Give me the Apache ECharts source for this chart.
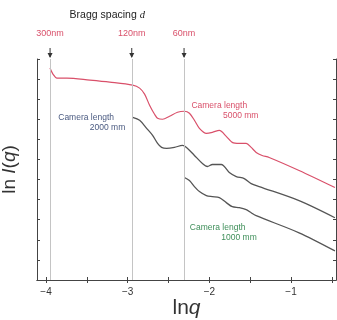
<!DOCTYPE html>
<html>
<head>
<meta charset="utf-8">
<script src="https://cdn.jsdelivr.net/npm/echarts@6/dist/echarts.min.js"></script>
<style>
  html, body { margin: 0; padding: 0; background: #fff; }
  #chart { width: 337px; height: 320px; }
</style>
</head>
<body>
<div id="chart"></div>
<script>
// ln q tick positions
const xTickLabels = [-4, -3, -2, -1]
const xMinorTicks = [-4, -3.5, -3, -2.5, -2, -1.5, -1, -0.5]

// Bragg spacing markers (ln q positions)
const braggLabels = ['300nm', '120nm', '60nm']
const braggLnQ = [-3.95, -2.95, -2.31]

// curves: [ln q, ln I(q)] (arbitrary units)
const curve5000 = [
  [-3.951, 10.55], [-3.915, 10.25], [-3.866, 10.05], [-3.744, 10.05], [-3.463, 9.95],
  [-3.220, 9.85], [-2.939, 9.70], [-2.854, 9.55], [-2.793, 9.25], [-2.732, 8.70],
  [-2.671, 8.25], [-2.634, 8.05], [-2.573, 8.00], [-2.488, 8.15], [-2.390, 8.35],
  [-2.305, 8.40], [-2.244, 8.30], [-2.183, 7.95], [-2.122, 7.55], [-2.037, 7.30],
  [-1.963, 7.35], [-1.878, 7.45], [-1.793, 7.15], [-1.720, 6.85], [-1.634, 6.80],
  [-1.549, 6.80], [-1.488, 6.60], [-1.427, 6.35], [-1.354, 6.20], [-1.268, 6.10],
  [-0.902, 5.45], [-0.463, 4.60]
]
const curve2000 = [
  [-2.939, 8.10], [-2.854, 7.95], [-2.768, 7.55], [-2.695, 7.20], [-2.634, 6.80],
  [-2.585, 6.60], [-2.524, 6.55], [-2.427, 6.60], [-2.329, 6.70], [-2.280, 6.60],
  [-2.183, 6.20], [-2.085, 5.80], [-2.024, 5.65], [-1.963, 5.75], [-1.854, 5.75],
  [-1.756, 5.35], [-1.671, 5.15], [-1.573, 5.05], [-1.488, 4.80], [-1.390, 4.65],
  [-0.902, 3.95], [-0.463, 3.10]
]
const curve1000 = [
  [-2.305, 5.10], [-2.244, 4.95], [-2.183, 4.65], [-2.122, 4.40], [-2.037, 4.20],
  [-1.963, 4.15], [-1.878, 4.10], [-1.793, 3.85], [-1.720, 3.65], [-1.634, 3.60],
  [-1.549, 3.50], [-1.488, 3.35], [-1.427, 3.20], [-0.902, 2.35], [-0.463, 1.45]
]

// camera length annotations: [line 1, line 2, anchor ln q, anchor ln I, colour]
const cameraNotes = [
  ['Camera length', '5000 mm', -2.22, 8.7, '#d9506a'],
  ['Camera length', '2000 mm', -3.85, 8.1, '#4a5a80'],
  ['Camera length', '1000 mm', -2.24, 2.6, '#3f8f5a']
]

const chart = echarts.init(document.getElementById('chart'))

const axisColor = '#444'
const lineStyle = { color: axisColor, width: 1 }

const option = {
  animation: false,
  backgroundColor: '#fff',
  grid: { left: 37, right: 1, top: 59, bottom: 40, outerBoundsMode: 'none' },
  xAxis: [
    {
      type: 'value',
      min: -4.11,
      max: -0.45,
      name: 'ln{i|q}',
      nameLocation: 'middle',
      nameGap: 17,
      nameMoveOverlap: false,
      nameTextStyle: {
        fontSize: 21,
        lineHeight: 22,
        color: '#333',
        fontFamily: 'Liberation Sans',
        rich: { i: { fontSize: 21, lineHeight: 22, fontStyle: 'italic', color: '#333', fontFamily: 'Liberation Sans' } }
      },
      axisLine: { show: true, lineStyle },
      axisTick: { inside: true, length: 3, customValues: xMinorTicks, lineStyle },
      axisLabel: {
        customValues: xTickLabels,
        formatter: v => String(v).replace('-', '\u2212'),
        color: '#333',
        fontSize: 10,
        margin: 7
      },
      splitLine: { show: false }
    },
    {
      type: 'value',
      position: 'top',
      min: -4.11,
      max: -0.45,
      axisLine: { show: true, lineStyle },
      axisTick: { inside: true, length: 3, customValues: xMinorTicks, lineStyle },
      axisLabel: { show: false },
      splitLine: { show: false }
    }
  ],
  yAxis: [
    {
      type: 'value',
      min: 0,
      max: 11,
      interval: 1,
      name: 'ln {i|I}({i|q})',
      nameLocation: 'middle',
      nameRotate: 90,
      nameGap: 18,
      nameMoveOverlap: false,
      nameTextStyle: {
        fontSize: 19,
        color: '#333',
        fontFamily: 'Liberation Sans',
        rich: { i: { fontSize: 19, fontStyle: 'italic', color: '#333', fontFamily: 'Liberation Sans' } }
      },
      axisLine: { show: true, lineStyle },
      axisTick: { inside: true, length: 3, lineStyle },
      axisLabel: { show: false },
      splitLine: { show: false }
    },
    {
      type: 'value',
      position: 'right',
      min: 0,
      max: 11,
      interval: 1,
      axisLine: { show: true, lineStyle },
      axisTick: { inside: true, length: 3, lineStyle },
      axisLabel: { show: false },
      splitLine: { show: false }
    }
  ],
  series: [
    {
      name: 'guides',
      type: 'line',
      data: [],
      markLine: {
        silent: true,
        symbol: 'none',
        label: { show: false },
        lineStyle: { color: '#c4c4c4', width: 1, type: 'solid' },
        data: braggLnQ.map(v => ({ xAxis: v }))
      }
    },
    {
      name: '5000 mm',
      type: 'line',
      data: curve5000,
      showSymbol: false,
      smooth: 0.3,
      lineStyle: { color: '#d9506a', width: 1.2 }
    },
    {
      name: '2000 mm',
      type: 'line',
      data: curve2000,
      showSymbol: false,
      smooth: 0.3,
      lineStyle: { color: '#555', width: 1.3 }
    },
    {
      name: '1000 mm',
      type: 'line',
      data: curve1000,
      showSymbol: false,
      smooth: 0.3,
      lineStyle: { color: '#555', width: 1.3 }
    }
  ]
}

chart.setOption(option)

// annotations placed through the axis scales
const graphics = []
const topY = chart.convertToPixel({ yAxisIndex: 0 }, 11)

braggLnQ.forEach((v, i) => {
  const px = chart.convertToPixel({ xAxisIndex: 0 }, v)
  graphics.push({
    type: 'line',
    shape: { x1: px, y1: topY - 11, x2: px, y2: topY - 2 },
    style: { stroke: '#333', lineWidth: 1 }
  })
  graphics.push({
    type: 'polygon',
    shape: { points: [[px - 2.5, topY - 6], [px + 2.5, topY - 6], [px, topY - 1]] },
    style: { fill: '#333' }
  })
  graphics.push({
    type: 'text',
    x: px,
    y: topY - 25,
    style: {
      text: braggLabels[i],
      fill: '#d9506a',
      font: '9px "Liberation Sans Narrow", "Liberation Sans", sans-serif',
      align: 'center',
      verticalAlign: 'middle'
    }
  })
})

graphics.push({
  type: 'text',
  x: chart.convertToPixel({ xAxisIndex: 0 }, -3.25),
  y: topY - 44,
  style: {
    text: 'Bragg spacing {i|d}',
    fill: '#222',
    font: '10.5px "Liberation Sans Narrow", "Liberation Sans", sans-serif',
    align: 'center',
    verticalAlign: 'middle',
    rich: { i: { fontStyle: 'italic', fontSize: 10.5, fill: '#222', fontFamily: 'Liberation Sans Narrow' } }
  }
})

cameraNotes.forEach(n => {
  const p = chart.convertToPixel({ xAxisIndex: 0, yAxisIndex: 0 }, [n[2], n[3]])
  graphics.push({
    type: 'text',
    x: p[0],
    y: p[1],
    style: {
      text: n[0],
      fill: n[4],
      font: '8.5px "Liberation Sans", sans-serif',
      align: 'left',
      verticalAlign: 'middle'
    }
  })
  graphics.push({
    type: 'text',
    x: p[0] + 67,
    y: p[1] + 10,
    style: {
      text: n[1],
      fill: n[4],
      font: '8.5px "Liberation Sans", sans-serif',
      align: 'right',
      verticalAlign: 'middle'
    }
  })
})

chart.setOption({ graphic: graphics })
</script>
</body>
</html>
